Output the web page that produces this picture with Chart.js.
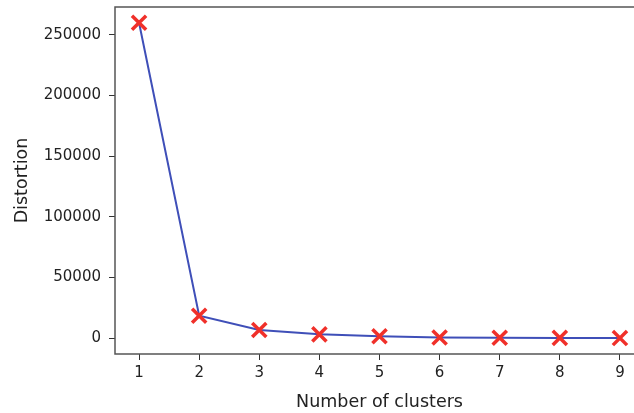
<!DOCTYPE html>
<html>
<head>
<meta charset="utf-8">
<script src="https://cdn.jsdelivr.net/npm/chart.js@4"></script>
<style>
  html, body { margin: 0; padding: 0; background: #fff; overflow: hidden; }
  #wrap { width: 680px; height: 413px; }
</style>
</head>
<body>
<div id="wrap"><canvas id="elbow"></canvas></div>
<script>
// elbow curve data
const clusters = [1, 2, 3, 4, 5, 6, 7, 8, 9];
const distortion = [260000, 18500, 6800, 3200, 1600, 600, 400, 250, 150];
const yTicks = [0, 50000, 100000, 150000, 200000, 250000];
const xTicks = [1, 2, 3, 4, 5, 6, 7, 8, 9];

// matplotlib-style box round the plot area
const frame = {
  id: "frame",
  afterDraw(chart) {
    const a = chart.chartArea, c = chart.ctx;
    c.save();
    c.strokeStyle = "#555";
    c.lineWidth = 1.5;
    c.strokeRect(a.left, a.top, a.right - a.left, a.bottom - a.top);
    c.restore();
  }
};

new Chart(document.getElementById("elbow"), {
  type: "line",
  data: {
    datasets: [{
      data: clusters.map((k, i) => ({ x: k, y: distortion[i] })),
      borderColor: "#3f4fb8",
      borderWidth: 2,
      pointStyle: "crossRot",
      pointRadius: 10,
      pointBorderWidth: 3.5,
      pointBorderColor: "#f0302a",
      pointBackgroundColor: "#f0302a",
      tension: 0
    }]
  },
  options: {
    responsive: true,
    maintainAspectRatio: false,
    animation: false,
    layout: { autoPadding: false, padding: { top: 7, right: 36, left: 0, bottom: 0 } },
    plugins: { legend: { display: false }, tooltip: { enabled: false } },
    scales: {
      x: {
        type: "linear",
        min: 0.6,
        max: 9.4,
        afterBuildTicks: s => { s.ticks = xTicks.map(v => ({ value: v })); },
        afterFit: s => { s.height = 59; s.paddingLeft = 0; s.paddingRight = 0; },
        grid: { drawOnChartArea: false, tickLength: 6, color: "#333", tickWidth: 1 },
        border: { display: false },
        ticks: { color: "#222", font: { family: "DejaVu Sans", size: 15 }, padding: 4, maxRotation: 0 },
        title: { display: true, text: "Number of clusters", color: "#222", font: { family: "DejaVu Sans", size: 17.5 }, padding: { top: 4, bottom: 0 } }
      },
      y: {
        min: -13000,
        max: 273000,
        afterBuildTicks: s => { s.ticks = yTicks.map(v => ({ value: v })); },
        afterFit: s => { s.width = 115; s.paddingTop = 0; s.paddingBottom = 0; },
        grid: { drawOnChartArea: false, tickLength: 6, color: "#333", tickWidth: 1 },
        border: { display: false },
        ticks: { color: "#222", font: { family: "DejaVu Sans", size: 15 }, padding: 8, callback: v => String(v) },
        title: { display: true, text: "Distortion", color: "#222", font: { family: "DejaVu Sans", size: 17.5 }, padding: { top: 12, bottom: 4 } }
      }
    }
  },
  plugins: [frame]
});
</script>
</body>
</html>
